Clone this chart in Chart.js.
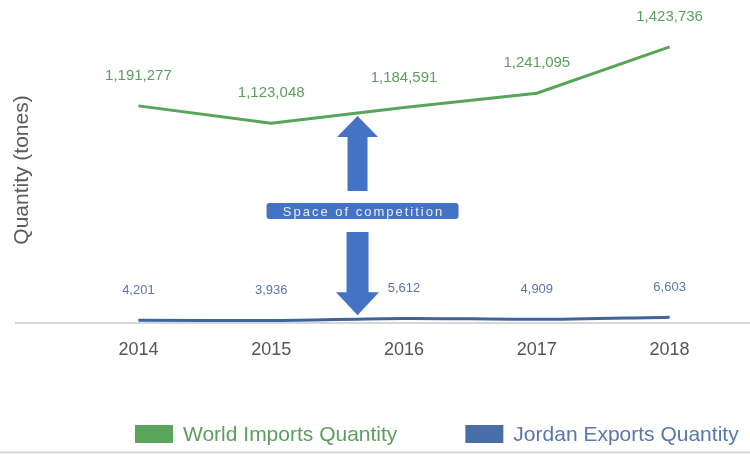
<!DOCTYPE html>
<html>
<head>
<meta charset="utf-8">
<script src="https://cdn.jsdelivr.net/npm/chart.js@4.4.0/dist/chart.umd.min.js"></script>
<style>
    html, body { margin: 0; padding: 0; background: #fff; }
    canvas { display: block; }
</style>
</head>
<body>
<canvas id="quantity-chart" width="750" height="454"></canvas>
<script>
// данные по годам
const years = ['2014', '2015', '2016', '2017', '2018'];
const worldImports = [1191277, 1123048, 1184591, 1241095, 1423736];
const jordanExports = [4201, 3936, 5612, 4909, 6603];
const seriesNames = ['World Imports Quantity', 'Jordan Exports Quantity'];
const axisTitle = 'Quantity (tones)';
const noteText = 'Space of competition';

const GREEN = '#56a558';
const GREEN_TEXT = '#5c9e5c';
const BLUE = '#41639c';
const BLUE_TEXT = '#5877aa';
const ARROW = '#4472c4';
const FONT = '"Liberation Sans", Arial, sans-serif';

// серая базовая линия, нижняя черта и подпись оси Y
const frame = {
    id: 'frame',
    beforeDatasetsDraw(chart) {
        const { ctx, chartArea } = chart;
        ctx.save();
        ctx.strokeStyle = '#d6d6d6';
        ctx.lineWidth = 2;
        ctx.beginPath();
        ctx.moveTo(15, chartArea.bottom);
        ctx.lineTo(chart.width, chartArea.bottom);
        ctx.moveTo(0, chart.height - 1.5);
        ctx.lineTo(chart.width, chart.height - 1.5);
        ctx.stroke();
        ctx.translate(22, 170);
        ctx.rotate(-Math.PI / 2);
        ctx.font = '21px ' + FONT;
        ctx.fillStyle = '#5a5a5a';
        ctx.textAlign = 'center';
        ctx.textBaseline = 'middle';
        ctx.fillText(axisTitle, 0, 0);
        ctx.restore();
    }
};

// подписи значений над точками
const valueLabels = {
    id: 'valueLabels',
    afterDatasetsDraw(chart) {
        const ctx = chart.ctx;
        chart.data.datasets.forEach((ds, i) => {
            const meta = chart.getDatasetMeta(i);
            ctx.save();
            ctx.font = ds.labelFont;
            ctx.fillStyle = ds.labelColor;
            ctx.textAlign = 'center';
            ctx.textBaseline = 'middle';
            meta.data.forEach((pt, j) => {
                ctx.fillText(ds.data[j].toLocaleString('en-US'), pt.x, pt.y - 30);
            });
            ctx.restore();
        });
    }
};

// y линии между двумя точками набора
const lineYAt = (chart, dsIndex, i, t) => {
    const pts = chart.getDatasetMeta(dsIndex).data;
    return pts[i].y + (pts[i + 1].y - pts[i].y) * t;
};

const drawArrow = (ctx, cx, tipY, baseY, shaftW, headW, headH) => {
    const dir = Math.sign(baseY - tipY);
    const neck = tipY + dir * headH;
    ctx.beginPath();
    ctx.moveTo(cx, tipY);
    ctx.lineTo(cx + headW / 2, neck);
    ctx.lineTo(cx + shaftW / 2, neck);
    ctx.lineTo(cx + shaftW / 2, baseY);
    ctx.lineTo(cx - shaftW / 2, baseY);
    ctx.lineTo(cx - shaftW / 2, neck);
    ctx.lineTo(cx - headW / 2, neck);
    ctx.closePath();
    ctx.fill();
};

// стрелки "пространство конкуренции" между линиями
const gapNote = {
    id: 'gapNote',
    afterDatasetsDraw(chart) {
        const { ctx } = chart;
        const t = 0.65;
        const xs = chart.getDatasetMeta(0).data;
        const cx = xs[1].x + (xs[2].x - xs[1].x) * t;
        const topY = lineYAt(chart, 0, 1, t) + 3;
        const bottomY = lineYAt(chart, 1, 1, t) - 4;
        ctx.save();
        ctx.fillStyle = ARROW;
        drawArrow(ctx, cx, topY, 191, 20, 41, 21);
        drawArrow(ctx, cx, bottomY, 232, 22, 43, 23);
        // плашка с текстом
        const bx = cx - 91, by = 203, bw = 192, bh = 16;
        ctx.beginPath();
        ctx.roundRect(bx, by, bw, bh, 3);
        ctx.fill();
        ctx.fillStyle = '#e6ecf8';
        ctx.font = '13px ' + FONT;
        ctx.letterSpacing = '2px';
        ctx.textAlign = 'center';
        ctx.textBaseline = 'middle';
        ctx.fillText(noteText, bx + bw / 2 + 1, by + bh / 2 + 1);
        ctx.restore();
    }
};

// легенда внизу: цветной прямоугольник + подпись цветом серии
const bottomLegend = {
    id: 'bottomLegend',
    afterDraw(chart) {
        const { ctx } = chart;
        const textColors = [GREEN_TEXT, BLUE_TEXT];
        const boxW = 38, boxH = 18, gapText = 10, gapItem = 68;
        let x = 135;
        const y = 425;
        ctx.save();
        ctx.font = '21px ' + FONT;
        ctx.textBaseline = 'middle';
        ctx.textAlign = 'left';
        chart.data.datasets.forEach((ds, i) => {
            ctx.fillStyle = ds.backgroundColor;
            ctx.fillRect(x, y, boxW, boxH);
            x += boxW + gapText;
            ctx.fillStyle = textColors[i];
            ctx.fillText(seriesNames[i], x, y + boxH / 2 + 1);
            x += ctx.measureText(seriesNames[i]).width + gapItem;
        });
        ctx.restore();
    }
};

new Chart(document.getElementById('quantity-chart'), {
    type: 'line',
    data: {
        labels: years,
        datasets: [
            {
                label: seriesNames[0],
                data: worldImports,
                yAxisID: 'y',
                borderColor: GREEN,
                backgroundColor: '#5aa55c',
                borderWidth: 3,
                pointRadius: 0,
                tension: 0,
                labelFont: '15px ' + FONT,
                labelColor: GREEN_TEXT,
            },
            {
                label: seriesNames[1],
                data: jordanExports,
                yAxisID: 'y1',
                borderColor: BLUE,
                backgroundColor: '#4a6ea8',
                borderWidth: 3,
                pointRadius: 0,
                tension: 0.3,
                labelFont: '13px ' + FONT,
                labelColor: BLUE_TEXT,
            },
        ],
    },
    options: {
        responsive: false,
        animation: false,
        layout: { padding: { top: 20, left: 0, right: 0, bottom: 0 } },
        plugins: {
            tooltip: { enabled: false },
            legend: { display: false },
        },
        scales: {
            x: {
                offset: true,
                grid: { display: false, drawTicks: false },
                border: { display: false },
                ticks: { color: '#555', padding: 16, font: { size: 18, family: FONT } },
                afterFit: (s) => { s.height = 131; },
            },
            y: {
                position: 'left',
                min: 335000,
                max: 1530000,
                grid: { display: false, drawTicks: false },
                border: { display: false },
                ticks: { display: false },
                afterFit: (s) => { s.width = 72; },
            },
            y1: {
                position: 'right',
                min: 2000,
                max: 240000,
                grid: { display: false, drawTicks: false },
                border: { display: false },
                ticks: { display: false },
                afterFit: (s) => { s.width = 14; },
            },
        },
    },
    plugins: [frame, valueLabels, gapNote, bottomLegend],
});
</script>
</body>
</html>
